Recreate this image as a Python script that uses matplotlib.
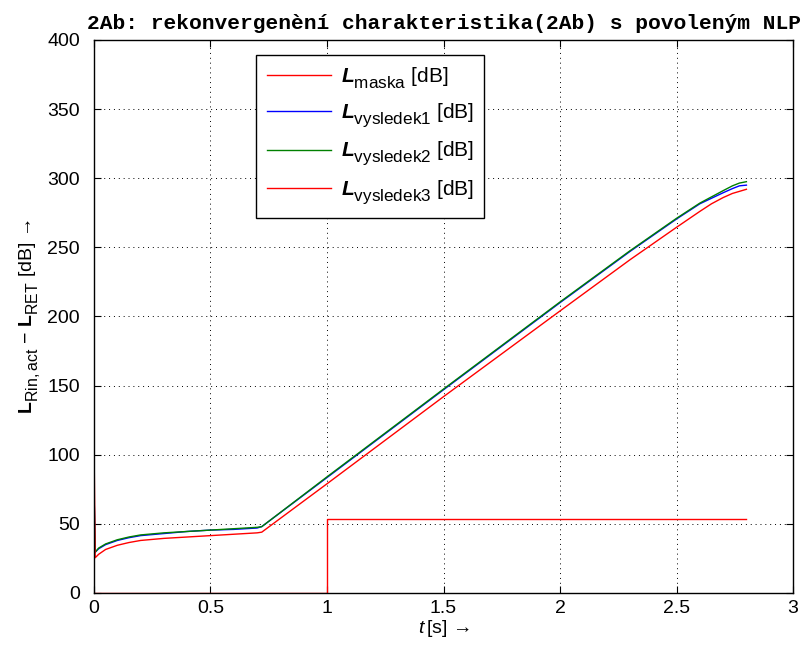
import matplotlib
matplotlib.use("Agg")
import matplotlib.pyplot as plt
import matplotlib._mathtext as mt

# larger and lower sub-scripts, closer to the original look
mt.SHRINK_FACTOR = 0.82
mt.FontConstantsBase.sub1 = 0.6
mt.FontConstantsBase.sub2 = 0.7

plt.rcParams['font.family'] = ['Liberation Sans', 'DejaVu Sans']
plt.rcParams['mathtext.fontset'] = 'custom'
plt.rcParams['mathtext.rm'] = 'Liberation Sans'
plt.rcParams['mathtext.it'] = 'Liberation Sans:italic'
plt.rcParams['mathtext.bf'] = 'Liberation Sans:bold'
plt.rcParams['mathtext.bfit'] = 'Liberation Sans:italic:bold'

# ---- data ----
t_mask = [0.0, 1.0, 1.0, 2.8]
L_mask = [0.0, 0.0, 53.5, 53.5]

t_res = [0.0, 0.005, 0.02, 0.05, 0.1, 0.15, 0.2, 0.3, 0.4, 0.5, 0.6, 0.7,
         0.72, 1.0, 1.5, 2.0, 2.3, 2.5, 2.6, 2.65, 2.7, 2.74, 2.77, 2.8]

L_vys1 = [76.0, 29.5, 32.0, 35.0, 38.0, 40.0, 41.5, 43.0, 44.5, 45.5, 46.0, 47.0,
          48.0, 83.5, 147.0, 210.0, 247.0, 270.5, 281.5, 285.5, 289.5, 292.5, 294.5, 295.0]

L_vys2 = [76.0, 29.5, 32.5, 35.5, 38.5, 40.5, 42.0, 43.5, 44.5, 45.5, 46.5, 47.5,
          48.0, 84.0, 147.5, 210.5, 247.5, 271.0, 282.0, 286.5, 291.0, 294.5, 296.5, 297.5]

L_vys3 = [110.0, 25.5, 28.0, 31.5, 34.5, 36.5, 38.0, 39.5, 40.5, 41.5, 42.5, 43.5,
          44.0, 79.0, 142.0, 204.0, 241.0, 264.5, 276.0, 281.5, 286.0, 289.0, 290.5, 292.0]


def main():
    fig = plt.figure(figsize=(8.02, 6.5), dpi=100)
    ax = fig.add_axes([0.1172, 0.0877, 0.8716, 0.8508])

    ax.plot(t_mask, L_mask, color='#ff0000', lw=1.0,
            label=r'$\mathbfit{L}_{\mathrm{maska}}$ [dB]')
    ax.plot(t_res, L_vys1, color='#0000ff', lw=1.0,
            label=r'$\mathbfit{L}_{\mathrm{vysledek1}}$ [dB]')
    ax.plot(t_res, L_vys2, color='#008000', lw=1.0,
            label=r'$\mathbfit{L}_{\mathrm{vysledek2}}$ [dB]')
    ax.plot(t_res, L_vys3, color='#ff0000', lw=1.0,
            label=r'$\mathbfit{L}_{\mathrm{vysledek3}}$ [dB]')

    ax.set_xlim(0, 3)
    ax.set_ylim(0, 400)
    ax.set_xticks([0, 0.5, 1, 1.5, 2, 2.5, 3])
    ax.set_xticklabels(['0', '0.5', '1', '1.5', '2', '2.5', '3'])
    ax.set_yticks(range(0, 401, 50))
    ax.tick_params(direction='in', top=True, right=True, labelsize=14,
                   length=5, width=0.8)
    ax.tick_params(axis='y', pad=10)
    ax.tick_params(axis='x', pad=5)
    for s in ax.spines.values():
        s.set_linewidth(1.0)
    ax.grid(True, linestyle=(0, (1, 4)), color='black', linewidth=0.7)

    ax.set_title('2Ab: rekonvergenèní charakteristika(2Ab) s povoleným NLP',
                 family='Liberation Mono', fontweight='bold', fontsize=15.3, pad=8)
    ax.set_xlabel(r'$\mathit{t}\,$[s] →', fontsize=14, labelpad=1)
    ax.set_ylabel(r'$\mathbf{L}_{\mathrm{Rin,act}}$ − $\mathbf{L}_{\mathrm{RET}}$ [dB] →',
                  fontsize=14, labelpad=4)

    leg = ax.legend(loc='upper left', bbox_to_anchor=(0.232, 0.973), fontsize=15,
                    handlelength=3.1, handletextpad=0.45, fancybox=False,
                    framealpha=1, edgecolor='black', borderpad=0.5,
                    labelspacing=0.5, borderaxespad=0)
    leg.get_frame().set_linewidth(1.0)

    fig.savefig('out.png', dpi=100)


if __name__ == '__main__':
    main()
